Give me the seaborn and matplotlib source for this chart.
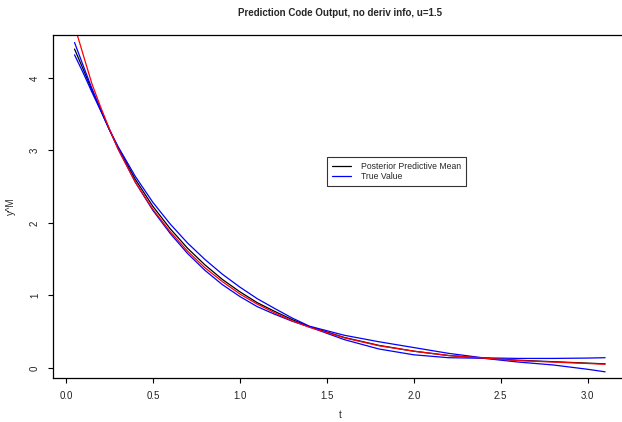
import matplotlib
matplotlib.use("Agg")
import matplotlib.pyplot as plt
import seaborn as sns
import pandas as pd

t = [0.05, 0.1, 0.15, 0.2, 0.25, 0.3, 0.4, 0.5, 0.6, 0.7, 0.8, 0.9, 1.0, 1.1, 1.2, 1.3,
     1.4, 1.6, 1.8, 2.0, 2.2, 2.4, 2.6, 2.8, 3.0, 3.1]
post_mean = [4.40, 4.12, 3.83, 3.56, 3.29, 3.04, 2.60, 2.23, 1.92, 1.65, 1.42, 1.22,
             1.05, 0.90, 0.78, 0.667, 0.57, 0.42, 0.31, 0.23, 0.17, 0.135, 0.105,
             0.085, 0.065, 0.055]
upper = [4.49, 4.17, 3.855, 3.57, 3.29, 3.055, 2.64, 2.285, 1.985, 1.722, 1.495, 1.292,
         1.115, 0.955, 0.82, 0.689, 0.575, 0.45, 0.36, 0.28, 0.20, 0.138, 0.13, 0.13,
         0.135, 0.14]
lower = [4.32, 4.07, 3.805, 3.55, 3.29, 3.025, 2.56, 2.175, 1.855, 1.578, 1.345, 1.148,
         0.985, 0.845, 0.74, 0.645, 0.565, 0.39, 0.26, 0.18, 0.14, 0.132, 0.08, 0.04,
         -0.02, -0.055]
true_val = [4.72, 4.32, 3.92, 3.60, 3.30, 3.02, 2.56, 2.19, 1.88, 1.61, 1.38, 1.19,
            1.02, 0.88, 0.76, 0.65, 0.56, 0.415, 0.305, 0.23, 0.17, 0.135, 0.10, 0.08,
            0.06, 0.05]

x_ticks = [0.0, 0.5, 1.0, 1.5, 2.0, 2.5, 3.0]
x_tick_labels = ["0.0", "0.5", "1.0", "1.5", "2.0", "2.5", "3.0"]
y_ticks = [0, 1, 2, 3, 4]
y_tick_labels = ["0", "1", "2", "3", "4"]

sns.set_style("ticks")
plt.rcParams["font.family"] = ["Liberation Sans", "DejaVu Sans"]

df = pd.DataFrame({"t": t, "mean": post_mean, "upper": upper, "lower": lower, "true": true_val})

fig = plt.figure(figsize=(6.22, 4.22), dpi=100)
ax = fig.add_axes([0.0857, 0.1043, 1.007 - 0.0857, 0.9164 - 0.1043])

lw = 0.9
sns.lineplot(data=df, x="t", y="mean", ax=ax, color="black", lw=lw, label="Posterior Predictive Mean")
sns.lineplot(data=df, x="t", y="upper", ax=ax, color="blue", lw=lw, label="True Value")
sns.lineplot(data=df, x="t", y="lower", ax=ax, color="blue", lw=lw, label="_nolegend_")
sns.lineplot(data=df, x="t", y="true", ax=ax, color="red", lw=lw, label="_nolegend_")

ax.set_xlim(-0.072, 3.222)
ax.set_ylim(-0.14, 4.59)
ax.set_xticks(x_ticks)
ax.set_xticklabels(x_tick_labels)
ax.set_yticks(y_ticks)
ax.set_yticklabels(y_tick_labels, rotation=90, va="center")
ax.tick_params(axis="both", direction="out", length=3.6, width=0.8, labelsize=7,
               color="black", labelcolor="#222222")
ax.tick_params(axis="x", pad=6)
ax.tick_params(axis="y", pad=6)
for s in ax.spines.values():
    s.set_visible(True)
    s.set_color("black")
    s.set_linewidth(0.9)

ax.set_xlabel("t", fontsize=7, labelpad=6)
ax.set_ylabel("y^M", fontsize=7, labelpad=10)
fig.suptitle("Prediction Code Output, no deriv info, u=1.5", fontsize=7, fontweight="bold",
             x=(53.3 + 626.3) / 2 / 622, y=1 - 13 / 422, va="center")

leg = ax.legend(loc="upper left", bbox_to_anchor=(0.477, 0.646), fontsize=6.2, frameon=True,
                fancybox=False, edgecolor="black", handlelength=2.2, handletextpad=1.2,
                borderpad=0.6, labelspacing=0.15, borderaxespad=0)
leg.get_frame().set_linewidth(0.8)

fig.savefig("out.png", dpi=100)
